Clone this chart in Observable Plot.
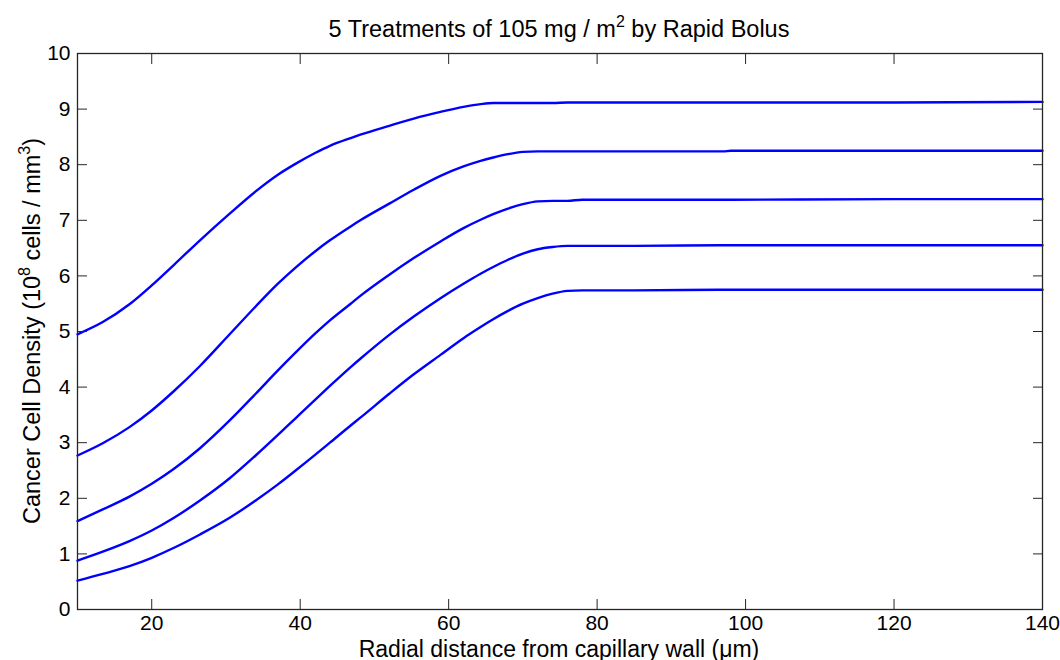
<!DOCTYPE html>
<html>
<head>
<meta charset="utf-8">
<script src="https://cdn.jsdelivr.net/npm/d3@7"></script>
<script src="https://cdn.jsdelivr.net/npm/@observablehq/plot@0.6"></script>
<style>
  html, body { margin: 0; padding: 0; background: #fff; }
  #chart svg { display: block; }
</style>
</head>
<body>
<div id="chart"></div>
<script>
// Radial distance from capillary wall (µm)
const distance = [10, 13.4, 17, 20, 23, 26.5, 30.5, 34, 37, 39.3, 42, 44, 46.8, 48.1, 52, 55.3, 58.9, 62, 64.3, 66, 68, 70, 72, 74, 76, 78, 85, 97, 98, 120, 140];

// Cancer cell density (10^8 cells / mm^3), one array per curve (top to bottom)
const curve1 = [4.95, 5.17, 5.49, 5.83, 6.20, 6.64, 7.12, 7.52, 7.82, 8.01, 8.21, 8.34, 8.48, 8.54, 8.70, 8.83, 8.95, 9.04, 9.09, 9.11, 9.11, 9.11, 9.11, 9.11, 9.12, 9.12, 9.12, 9.12, 9.12, 9.12, 9.13];
const curve2 = [2.77, 2.99, 3.28, 3.58, 3.93, 4.38, 4.95, 5.45, 5.86, 6.14, 6.44, 6.64, 6.89, 7.00, 7.30, 7.55, 7.80, 7.97, 8.07, 8.13, 8.19, 8.23, 8.24, 8.24, 8.24, 8.24, 8.24, 8.24, 8.25, 8.25, 8.25];
const curve3 = [1.59, 1.80, 2.03, 2.26, 2.53, 2.90, 3.40, 3.88, 4.30, 4.61, 4.96, 5.20, 5.50, 5.64, 6.02, 6.32, 6.62, 6.86, 7.01, 7.11, 7.21, 7.29, 7.34, 7.35, 7.35, 7.37, 7.37, 7.37, 7.37, 7.38, 7.38];
const curve4 = [0.88, 1.04, 1.23, 1.42, 1.65, 1.96, 2.36, 2.77, 3.14, 3.43, 3.77, 4.02, 4.36, 4.51, 4.94, 5.27, 5.60, 5.86, 6.04, 6.16, 6.29, 6.40, 6.48, 6.52, 6.54, 6.54, 6.54, 6.55, 6.55, 6.55, 6.55];
const curve5 = [0.52, 0.64, 0.78, 0.93, 1.11, 1.35, 1.65, 1.96, 2.25, 2.49, 2.78, 3.00, 3.31, 3.45, 3.88, 4.23, 4.58, 4.88, 5.08, 5.22, 5.37, 5.50, 5.60, 5.68, 5.73, 5.74, 5.74, 5.75, 5.75, 5.75, 5.75];

const seriesNames = ["Curve 1", "Curve 2", "Curve 3", "Curve 4", "Curve 5"];
const seriesValues = [curve1, curve2, curve3, curve4, curve5];

const xTicks = [20, 40, 60, 80, 100, 120, 140];
const yTicks = [0, 1, 2, 3, 4, 5, 6, 7, 8, 9, 10];

const titleMain = "5 Treatments of 105 mg / m";
const titleSup = "2";
const titleEnd = " by Rapid Bolus";
const xLabel = "Radial distance from capillary wall (\u03bcm)";
const yLabelParts = [["Cancer Cell Density (10", false], ["8", true], [" cells / mm", false], ["3", true], [")", false]];

const data = seriesNames.flatMap((name, i) =>
  distance.map((d, j) => ({series: name, x: d, y: seriesValues[i][j]}))
);

const FONT = "'Liberation Sans', Arial, Helvetica, sans-serif";
const AX = "#262626";
const LABEL_SIZE = 23;

const chart = Plot.plot({
  width: 1060,
  height: 660,
  marginLeft: 77,
  marginRight: 18,
  marginTop: 53,
  marginBottom: 51,
  style: {fontFamily: FONT, fontSize: "21px", color: "#000", background: "#fff"},
  x: {domain: [10, 140]},
  y: {domain: [0, 10]},
  marks: [
    Plot.line(data, {x: "x", y: "y", z: "series", stroke: "#0000ff", strokeWidth: 2.4, curve: "monotone-x"}),
    Plot.axisX({anchor: "bottom", ticks: xTicks, tickSize: -10, tickPadding: 16, label: null, stroke: AX, fontSize: 21}),
    Plot.axisX({anchor: "top", ticks: xTicks, tickSize: -10, tickFormat: () => "", label: null, stroke: AX}),
    Plot.axisY({anchor: "left", ticks: yTicks, tickSize: -10, tickPadding: 17, label: null, stroke: AX, fontSize: 21}),
    Plot.axisY({anchor: "right", ticks: yTicks, tickSize: -10, tickFormat: () => "", label: null, stroke: AX}),
    Plot.frame({stroke: AX, strokeWidth: 1.3})
  ]
});

document.getElementById("chart").appendChild(chart);

const svg = d3.select(chart);
// Title with superscript
const t = svg.append("text")
  .attr("x", 559).attr("y", 37)
  .attr("text-anchor", "middle")
  .attr("font-family", FONT).attr("font-size", 23.5).attr("fill", "#000");
t.append("tspan").text(titleMain);
t.append("tspan").attr("dy", -10).attr("font-size", 16).text(titleSup);
t.append("tspan").attr("dy", 10).text(titleEnd);

// X label
svg.append("text")
  .attr("x", 559).attr("y", 656.5)
  .attr("text-anchor", "middle")
  .attr("font-family", FONT).attr("font-size", LABEL_SIZE).attr("fill", "#000")
  .text(xLabel);

// Y label with superscripts
const yl = svg.append("text")
  .attr("transform", "translate(40,331) rotate(-90)")
  .attr("text-anchor", "middle")
  .attr("font-family", FONT).attr("font-size", 23.5).attr("fill", "#000");
let prevSup = false;
for (const [txt, sup] of yLabelParts) {
  const ts = yl.append("tspan").text(txt);
  if (sup && !prevSup) ts.attr("dy", -10).attr("font-size", 16);
  else if (!sup && prevSup) ts.attr("dy", 10);
  prevSup = sup;
}
</script>
</body>
</html>
